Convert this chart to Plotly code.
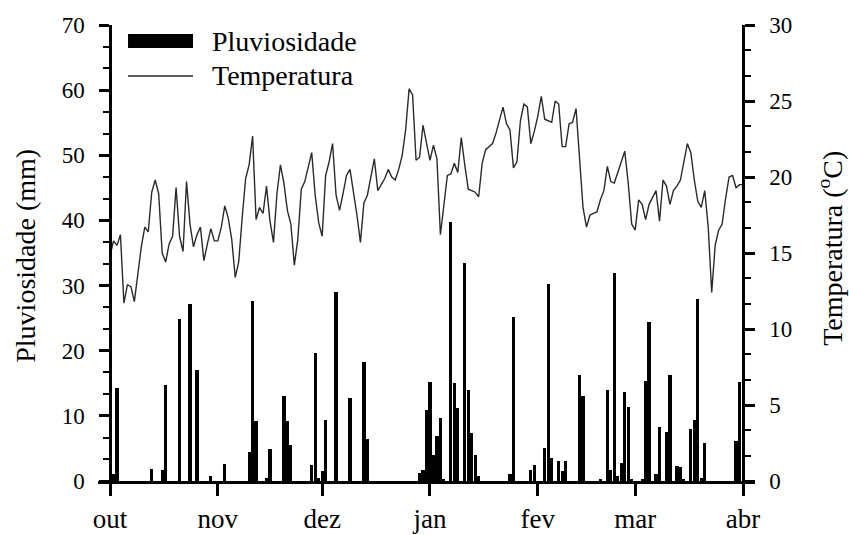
import pandas as pd
import plotly.graph_objects as go

# ---------------- data ----------------
start_date = "2010-10-01"
month_ticks = ["2010-10-01", "2010-11-01", "2010-12-01", "2011-01-01",
               "2011-02-01", "2011-03-01", "2011-04-01"]
month_labels = ["out", "nov", "dez", "jan", "fev", "mar", "abr"]

# daily mean temperature (°C), one value per day from 1 Oct to 1 Apr
temp_c = [
    14.8, 15.8, 15.5, 16.2, 11.7, 12.9, 12.8, 11.8, 13.6, 15.4,
    16.7, 16.4, 19.0, 19.8, 18.9, 15.0, 14.4, 15.6, 16.1, 19.3,
    16.1, 15.1, 19.7, 16.9, 15.4, 16.2, 16.7, 14.5, 15.6, 16.6,
    15.8, 15.8, 16.7, 18.1, 17.3, 15.9, 13.4, 14.4, 17.3, 19.9,
    20.8, 22.7, 17.2, 18.0, 17.6, 19.4, 17.1, 15.7, 18.9, 20.8,
    19.6, 17.8, 16.9, 14.2, 15.9, 19.2, 19.7, 20.6, 21.6, 18.8,
    17.0, 16.1, 20.1, 21.0, 22.2, 18.8, 17.8, 18.9, 20.1, 20.5,
    19.1, 17.5, 15.7, 18.3, 18.8, 20.0, 21.2, 19.1, 19.5, 19.9,
    20.5, 20.0, 19.8, 20.5, 21.4, 23.1, 25.8, 25.4, 21.1, 21.3,
    23.4, 22.3, 21.1, 22.1, 21.2, 16.2, 18.0, 20.1, 20.2, 20.9,
    20.3, 22.6, 20.8, 19.2, 19.1, 19.0, 18.7, 20.9, 21.8, 22.0,
    22.2, 22.9, 23.7, 24.6, 23.5, 23.1, 20.6, 21.0, 23.7, 24.8,
    24.6, 22.2, 23.0, 24.0, 25.3, 23.8, 23.7, 23.6, 25.0, 24.8,
    22.0, 22.0, 23.5, 23.6, 24.5, 21.3, 18.0, 16.7, 17.5, 17.6,
    17.7, 18.5, 19.1, 20.7, 19.7, 19.6, 20.3, 20.9, 21.7, 19.6,
    16.9, 16.5, 18.5, 18.2, 17.2, 18.2, 18.7, 19.1, 17.1, 19.8,
    19.4, 18.2, 19.1, 19.4, 19.8, 21.1, 22.2, 21.6, 19.8, 18.4,
    18.0, 19.1, 16.7, 12.4, 15.5, 16.5, 16.9, 18.6, 20.0, 20.1,
    19.3, 19.5, 19.5,
]

# rainy days (days after 1 Oct) and daily rainfall (mm)
rain_day = [1, 2, 12, 15, 16, 20, 23, 25, 29, 33,
            40, 41, 42, 45, 46, 50, 51, 52, 58, 59,
            60, 61, 62, 65, 69, 73, 74, 89, 90, 91,
            92, 93, 94, 95, 96, 98, 99, 100, 102, 103,
            104, 105, 106, 115, 116, 121, 122, 125, 126, 127,
            129, 130, 131, 135, 136, 141, 143, 144, 145, 146,
            147, 148, 149, 150, 153, 154, 155, 157, 158, 160,
            161, 163, 164, 165, 167, 168, 169, 170, 171, 180,
            181]
rain_mm = [1.0, 14.3, 1.8, 1.7, 14.8, 24.9, 27.1, 17.1, 0.8, 2.6,
           4.4, 27.7, 9.2, 0.5, 4.9, 13.1, 9.2, 5.5, 2.4, 19.7,
           0.5, 1.6, 9.4, 29.0, 12.7, 18.2, 6.5, 1.3, 1.7, 10.9,
           15.2, 4.0, 6.9, 9.6, 0.3, 39.8, 15.1, 11.2, 33.4, 14.0,
           7.3, 4.0, 0.7, 1.0, 25.2, 1.7, 2.5, 5.1, 30.2, 3.6,
           3.0, 1.6, 3.0, 16.2, 13.0, 0.3, 14.0, 1.7, 32.0, 0.7,
           2.7, 13.6, 11.4, 0.3, 0.3, 15.3, 24.4, 1.0, 8.3, 7.5,
           16.2, 2.3, 2.2, 0.3, 8.0, 9.3, 28.0, 0.4, 5.8, 6.1,
           15.2]

# ---------------- figure ----------------
t0 = pd.Timestamp(start_date)
temp_dates = pd.date_range(t0, periods=len(temp_c), freq="D")
rain_dates = [t0 + pd.Timedelta(days=d) for d in rain_day]

pad_days = 3.45
x_lo = t0 - pd.Timedelta(days=pad_days)
x_hi = pd.Timestamp(month_ticks[-1]) + pd.Timedelta(days=pad_days)
span_days = (x_hi - x_lo) / pd.Timedelta(days=1)
pos_left = pad_days / span_days
pos_right = 1 - pad_days / span_days

FONT = "Liberation Serif"
DAY_MS = 86400000

fig = go.Figure()
fig.add_trace(go.Bar(
    x=rain_dates, y=rain_mm, width=0.92 * DAY_MS,
    marker=dict(color="black", line=dict(width=0)),
    name="Pluviosidade", yaxis="y", showlegend=False,
))
fig.add_trace(go.Scatter(
    x=temp_dates, y=temp_c, mode="lines",
    line=dict(color="#2a2a2a", width=1.4),
    name="Temperatura", yaxis="y2", showlegend=False,
))

axis_common = dict(
    showline=True, linecolor="black", linewidth=2.5,
    ticks="outside", tickcolor="black", tickwidth=2.5,
    showgrid=False, zeroline=False, automargin=False,
)

fig.update_layout(
    width=849, height=535,
    margin=dict(l=98, r=94, t=25, b=54),
    paper_bgcolor="white", plot_bgcolor="white",
    font=dict(family=FONT, color="black"),
    bargap=0,
    xaxis=dict(
        type="date", range=[x_lo, x_hi],
        tickvals=month_ticks, ticktext=month_labels,
        ticklen=12, tickfont=dict(family=FONT, size=27, color="black"),
        ticklabelstandoff=0,
        **axis_common,
    ),
    yaxis=dict(
        range=[0, 70], dtick=10, tick0=0,
        anchor="free", position=pos_left, side="left",
        ticklen=10, tickfont=dict(family=FONT, size=23, color="black"),
        ticklabelstandoff=10,
        minor=dict(dtick=10 / 3, tick0=0, ticks="outside", ticklen=6,
                   tickwidth=2, tickcolor="black"),
        **axis_common,
    ),
    yaxis2=dict(
        range=[0, 30], dtick=5, tick0=0,
        overlaying="y", anchor="free", position=pos_right, side="right",
        ticklen=10, tickfont=dict(family=FONT, size=23, color="black"),
        ticklabelstandoff=10,
        minor=dict(dtick=5 / 3, tick0=0, ticks="outside", ticklen=6,
                   tickwidth=2, tickcolor="black"),
        **axis_common,
    ),
)

# axis titles
fig.add_annotation(text="Pluviosidade (mm)", textangle=-90,
                   xref="paper", yref="paper", x=-0.1096, y=0.494,
                   xanchor="center", yanchor="middle", showarrow=False,
                   font=dict(family=FONT, size=28, color="black"))
fig.add_annotation(text="Temperatura (<sup>o</sup>C)", textangle=-90,
                   xref="paper", yref="paper", x=1.1155, y=0.511,
                   xanchor="center", yanchor="middle", showarrow=False,
                   font=dict(family=FONT, size=28, color="black"))

# legend (drawn manually to match the wide legend keys)
fig.add_shape(type="rect", xref="paper", yref="paper",
              x0=0.0457, x1=0.1446, y0=0.9496, y1=0.9803,
              fillcolor="black", line=dict(width=0))
fig.add_shape(type="line", xref="paper", yref="paper",
              x0=0.0457, x1=0.1446, y0=0.8882, y1=0.8882,
              line=dict(color="#2a2a2a", width=1.5))
fig.add_annotation(text="Pluviosidade", xref="paper", yref="paper",
                   x=0.1705, y=0.9649, xanchor="left", yanchor="middle",
                   showarrow=False, font=dict(family=FONT, size=28, color="black"))
fig.add_annotation(text="Temperatura", xref="paper", yref="paper",
                   x=0.1705, y=0.8882, xanchor="left", yanchor="middle",
                   showarrow=False, font=dict(family=FONT, size=28, color="black"))

fig.write_html("out.html")
